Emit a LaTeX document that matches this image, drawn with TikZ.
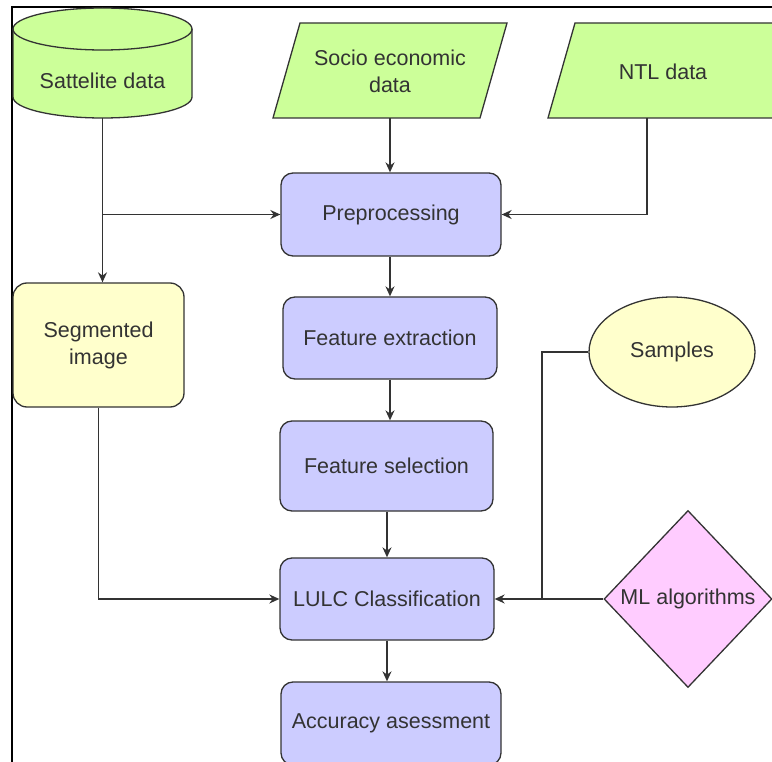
\documentclass[tikz,border=0pt]{standalone}
\usepackage{fontspec}
\setmainfont{Liberation Sans}
\usetikzlibrary{arrows.meta,shapes.geometric}
\definecolor{ingreen}{HTML}{CCFF99}
\definecolor{procblue}{HTML}{CCCCFF}
\definecolor{lightyel}{HTML}{FFFFCC}
\definecolor{mlpink}{HTML}{FFCCFF}
\definecolor{edge}{HTML}{333333}
\begin{document}
\begin{tikzpicture}[x=1pt,y=-1pt,
  every node/.style={font=\fontsize{21.5}{27}\selectfont, text=edge, align=center},
  proc/.style={draw=edge, line width=1.3pt, fill=procblue, rounded corners=12pt, minimum width=#1, inner sep=0pt},
  conn/.style={draw=edge, line width=1.4pt},
  arr/.style={conn, -{Stealth[length=10pt,width=9pt]}},
  shapeline/.style={draw=edge, line width=1.3pt}]
\useasboundingbox (0,0) rectangle (772,762);
\begin{scope}
\clip (0,0) rectangle (772,762);
% frame
\draw[line width=2.2pt, black] (12,775) -- (12,7) -- (780,7);
% cylinder
\path[shapeline, fill=ingreen] (13,29) -- (13,97) arc[start angle=180, end angle=360, x radius=89.5, y radius=-21] -- (192,29) arc[start angle=0, end angle=180, x radius=89.5, y radius=-21] -- cycle;
\draw[shapeline] (13,29) arc[start angle=180, end angle=360, x radius=89.5, y radius=-21];
\node[minimum width=179, minimum height=110, inner sep=0pt] (sat) at (102.5,63) {};
\node at (102.5,81) {Sattelite data};
% parallelograms
\path[shapeline, fill=ingreen] (273,118) -- (300,23) -- (507,23) -- (480,118) -- cycle;
\node[minimum width=234, minimum height=95, inner sep=0pt] (soc) at (390,70.5) {};
\node at (390,71) {Socio economic\\data};
\path[shapeline, fill=ingreen] (548,118) -- (575,23) -- (800,23) -- (773,118) -- cycle;
\node[minimum width=222, minimum height=95, inner sep=0pt] (ntl) at (659,70.5) {};
\node at (663,72) {NTL data};
% process boxes
\node[proc=220, minimum height=83] (pre) at (391,214.5) {Preprocessing};
\node[proc=214, minimum height=82] (fex) at (390,338) {Feature extraction};
\node[proc=213, minimum height=90] (fsel) at (386.5,466) {Feature selection};
\node[proc=214, minimum height=82] (lulc) at (387,599) {LULC Classification};
\node[proc=220, minimum height=83] (acc) at (391,723.5) {Accuracy asessment};
% segmented image
\node[draw=edge, line width=1.3pt, fill=lightyel, rounded corners=14pt, minimum width=171, minimum height=124, inner sep=0pt] (seg) at (98.5,345) {Segmented\\image};
% samples
\node[ellipse, draw=edge, line width=1.3pt, fill=lightyel, minimum width=166, minimum height=110, inner sep=0pt] (samp) at (672,352) {Samples};
% ML algorithms
\node[diamond, draw=edge, line width=1.3pt, fill=mlpink, minimum width=168, minimum height=177, inner sep=0pt] (ml) at (688,599) {ML algorithms};
% connectors
\coordinate (j1) at (102.5,214.5);
\draw[arr] (sat.south) -- (seg.north -| sat.south);
\draw[arr] (j1) -- (pre.west);
\draw[arr] (soc.south) -- (soc.south |- pre.north);
\coordinate (ntlb) at (647,118);
\draw[arr] (ntlb) |- (pre.east);
\draw[arr] (pre.south -| fex.north) -- (fex.north);
\draw[arr] (fex.south) -- (fex.south |- fsel.north);
\draw[arr] (fsel.south -| lulc.north) -- (lulc.north);
\draw[arr] (lulc.south) -- (lulc.south |- acc.north);
\draw[arr] (seg.south) |- (lulc.west);
\coordinate (sj) at (542,599);
\draw[conn] (samp.west) -| (sj);
\draw[arr] (ml.west) -- (lulc.east);
\end{scope}
\end{tikzpicture}
\end{document}
